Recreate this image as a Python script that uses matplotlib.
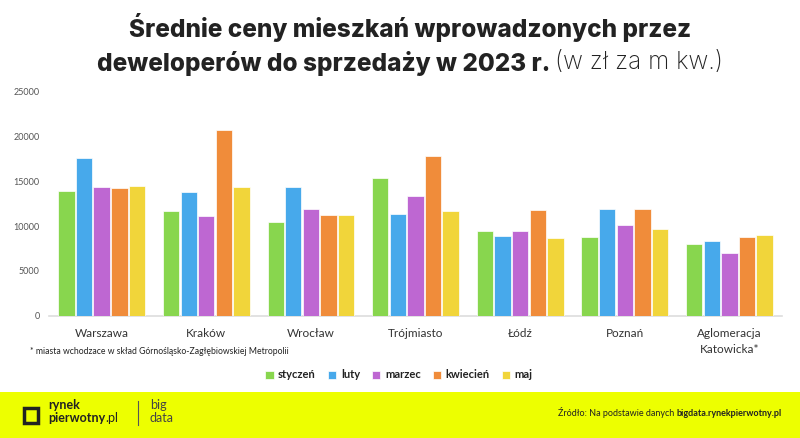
import matplotlib
matplotlib.use("Agg")
import matplotlib.pyplot as plt
from matplotlib.patches import Rectangle
import numpy as np

categories = ["Warszawa", "Kraków", "Wrocław", "Trójmiasto", "Łódź", "Poznań", "Aglomeracja\nKatowicka*"]
months = ["styczeń", "luty", "marzec", "kwiecień", "maj"]
styczen = [13950, 11640, 10490, 15330, 9410, 8740, 8000]
luty = [17560, 13760, 14320, 11310, 8930, 11900, 8370]
marzec = [14320, 11090, 11900, 13320, 9450, 10120, 6960]
kwiecien = [14250, 20680, 11200, 17780, 11790, 11870, 8820]
maj = [14430, 14360, 11200, 11640, 8630, 9710, 8970]
series = [styczen, luty, marzec, kwiecien, maj]
yticks = [0, 5000, 10000, 15000, 20000, 25000]

colors = ["#88D64E", "#47A9EB", "#BE67D2", "#F08C3A", "#F1D53A"]
FONT = ["Lato", "DejaVu Sans"]
TFONT = ["Inter", "DejaVu Sans"]
plt.rcParams["font.family"] = FONT

W, H = 800, 438
fig = plt.figure(figsize=(8, 4.38), dpi=100)

def fx(px):
    return px / W

def fy(py):
    return 1 - py / H

ax = fig.add_axes([fx(49.4), fy(315.7), fx(781.6 - 49.4), (315.7 - 91.7) / H])
x = np.arange(len(categories))
slot = 17.6 / 104.6
bw = 16.4 / 104.6
for i, (s, c) in enumerate(zip(series, colors)):
    ax.bar(x + (i - 2) * slot, s, width=bw, color=c, edgecolor="white", linewidth=0.5, label=months[i], zorder=3)

ax.set_xlim(-0.5, len(categories) - 0.5)
ax.set_ylim(0, 25000)
ax.set_yticks(yticks)
ax.set_yticklabels([str(t) for t in yticks], fontsize=6.5, color="#555555")
ax.set_xticks(x)
ax.set_xticklabels(categories, fontsize=8.5, color="#333333", linespacing=1.5)
ax.tick_params(axis="both", length=0)
ax.tick_params(axis="y", pad=7)
ax.tick_params(axis="x", pad=9)
for sp in ["top", "right", "left"]:
    ax.spines[sp].set_visible(False)
ax.spines["bottom"].set_color("#DDDDDD")
ax.spines["bottom"].set_linewidth(1.2)

# Title
TS = 17.5
fig.text(fx(410), fy(27), "Średnie ceny mieszkań wprowadzonych przez", ha="center", va="center",
         fontsize=TS, fontweight="heavy", color="#222222", family=TFONT)
t1 = fig.text(0, fy(63), "deweloperów do sprzedaży w 2023 r. ", ha="left", va="center",
              fontsize=TS, fontweight="heavy", color="#222222", family=TFONT)
t2 = fig.text(0, fy(63), "(w zł za m kw.)", ha="left", va="center",
              fontsize=TS, fontweight="light", color="#222222", family=TFONT)
fig.canvas.draw()
w1 = t1.get_window_extent().width
w2 = t2.get_window_extent().width
start = 410 - (w1 + w2) / 2
t1.set_x(fx(start))
t2.set_x(fx(start + w1))

# footnote
fig.text(fx(30), fy(351), "* miasta wchodzace w skład Górnośląsko-Zagłębiowskiej Metropolii",
         ha="left", va="center", fontsize=6.2, color="#222222")

# legend
leg = fig.legend(loc="center", bbox_to_anchor=(fx(399), fy(375)), ncol=5, frameon=False,
                 handlelength=0.75, handleheight=0.75, handletextpad=0.4, columnspacing=1.1,
                 prop={"size": 8, "weight": "bold", "family": FONT})
for txt in leg.get_texts():
    txt.set_color("#222222")

# footer band
fig.patches.append(Rectangle((0, 0), 1, (H - 392) / H, transform=fig.transFigure,
                             facecolor="#EDFF00", edgecolor="none", zorder=0))
# logo icon
fig.patches.append(Rectangle((fx(24), fy(423)), fx(14), 15 / H, transform=fig.transFigure,
                             facecolor="none", edgecolor="#222222", linewidth=2.5, zorder=2))
fig.text(fx(48), fy(405), "rynek", ha="left", va="center", fontsize=9, fontweight="bold", color="#222222")
p1 = fig.text(fx(48), fy(418), "pierwotny", ha="left", va="center", fontsize=9, fontweight="bold", color="#222222")
fig.canvas.draw()
fig.text(p1.get_window_extent().x1 / fig.bbox.width, fy(418), ".pl", ha="left", va="center",
         fontsize=9, color="#222222")
fig.lines.append(plt.Line2D([fx(138), fx(138)], [fy(401), fy(425)], transform=fig.transFigure,
                            color="#555555", linewidth=0.8))
fig.text(fx(150), fy(405), "big", ha="left", va="center", fontsize=9, fontweight="normal", color="#444444")
fig.text(fx(150), fy(418), "data", ha="left", va="center", fontsize=9, fontweight="normal", color="#444444")

src1 = fig.text(fx(782), fy(413), "bigdata.rynekpierwotny.pl", ha="right", va="center", fontsize=6.5,
                fontweight="bold", color="#222222")
fig.canvas.draw()
b2 = src1.get_window_extent()
fig.text(b2.x0 / fig.bbox.width, fy(413), "Źródło: Na podstawie danych ", ha="right", va="center",
         fontsize=6.5, color="#222222")

fig.savefig("out.png", dpi=100)
